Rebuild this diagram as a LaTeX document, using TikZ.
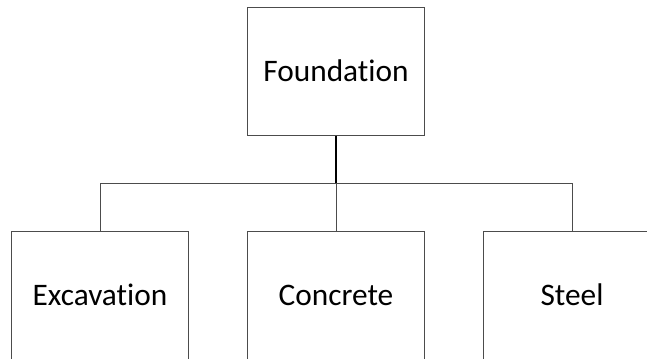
\documentclass[tikz,border=0pt]{standalone}
\usepackage{fontspec}
\setmainfont[Ligatures = NoCommon]{Carlito}
\begin{document}
\begin{tikzpicture}[x = 0.75pt, y = -0.75pt,
		box/.style = {draw = black!70, line width = 0.75pt, minimum width = 132.75pt, minimum height = 96pt, inner sep = 0pt, font = \fontsize{23.5}{28}\selectfont},
		link/.style = {draw = black!70, line width = 0.75pt}]
	\useasboundingbox (0, 0) rectangle (647, 358);
	\clip (0, 0) rectangle (647, 358);

	\node [box] (F) at (336, 71) {Foundation};

	\node [box] (E) at (100, 295) {Excavation};
	\node [box] (C) at (336, 295) {Concrete};
	\node [box] (S) at (572, 295) {Steel};

	\coordinate (bus) at (336, 183);

	\draw [link] (E.north |- bus) -- (S.north |- bus);
	\draw [link] (E.north |- bus) -- (E.north);
	\draw [link] (bus) -- (C.north);
	\draw [link] (S.north |- bus) -- (S.north);

	\draw [line width = 1.5pt] (F.south) -- (bus);
\end{tikzpicture}
\end{document}
